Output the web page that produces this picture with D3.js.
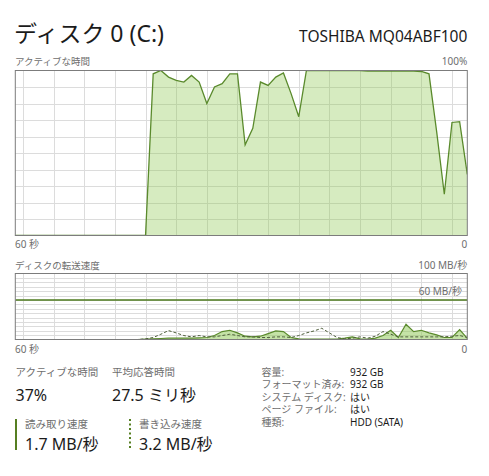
<!DOCTYPE html>
<html>
<head>
<meta charset="utf-8">
<script src="https://cdn.jsdelivr.net/npm/d3@7"></script>
<style>
  html, body { margin: 0; padding: 0; background: #ffffff; }
  svg { display: block; }
  text { font-family: "Segoe UI", "Noto Sans", "Noto Sans CJK JP", sans-serif; }
</style>
</head>
<body>
<svg id="chart" width="489" height="476"></svg>
<script>
// Disk activity over the last 60 seconds (one sample per second, oldest first)
const activeTime = [
  0, 0, 0, 0, 0, 0, 0, 0, 0, 0,
  0, 0, 0, 0, 0, 0, 0, 0, 98, 100,
  96, 94, 93, 97, 93, 80, 90, 92, 98, 98,
  55, 65, 93, 91, 96, 98.5, 86, 72, 100, 100,
  100, 100, 100, 100, 100, 100, 99.6, 99.6, 99.6, 99.6,
  99.6, 99.6, 99.6, 99.4, 98, 63, 25, 68.5, 69, 37
];
// Transfer rates in MB/s
const readSpeed = [
  0, 0, 0, 0, 0, 0, 0, 0, 0, 0,
  0, 0, 0, 0, 0, 0, 0, 0.5, 1, 1.5,
  2, 2, 2, 2, 2.5, 3, 6, 12, 14, 10,
  5, 4, 5, 9, 13, 12, 3, 1, 0.5, 0.5,
  0.5, 0.5, 0.5, 2, 4, 1, 0.5, 2, 6, 14,
  3, 23, 12, 14, 10, 7, 3, 3, 15, 1.7
];
const writeSpeed = [
  0, 0, 0, 0, 0, 0, 0, 0, 0, 0,
  0, 0, 0, 0, 0, 0, 0, 1, 3, 8,
  13.5, 10, 6, 4, 6, 4, 4, 6, 8, 6,
  4, 4, 3, 3, 4, 4, 3, 6, 10, 13,
  17, 10, 3, 1, 2, 4, 2, 5, 12, 8,
  4, 4, 4, 4, 4, 4, 4, 5, 6, 3.2
];

const diskTitle = "ディスク 0 (C:)";
const diskModel = "TOSHIBA MQ04ABF100";
const activeLabels = ["アクティブな時間", "100%"];
const transferLabels = ["ディスクの転送速度", "100 MB/秒"];
const transferRefLine = 60;
const transferRefLabel = "60 MB/秒";
const timeTicks = ["60 秒", "0"];

const summaryLabels = ["アクティブな時間", "平均応答時間"];
const summaryValues = ["37%", "27.5 ミリ秒"];
const rateLabels = ["読み取り速度", "書き込み速度"];
const rateValues = ["1.7 MB/秒", "3.2 MB/秒"];
const infoLabels = ["容量:", "フォーマット済み:", "システム ディスク:", "ページ ファイル:", "種類:"];
const infoValues = ["932 GB", "932 GB", "はい", "はい", "HDD (SATA)"];

// ---- drawing ----
const svg = d3.select("#chart");
const GREEN_LINE = "#5a8a2c";
const GREEN_FILL = "#8cc850";
const GRID = "#dcdcdc";
const BORDER = "#7c7c7c";
const LABEL = "#6e6e6e";
const INK = "#1b1b1b";

const left = 15.3, right = 467.3;
const x = d3.scaleLinear().domain([0, activeTime.length - 1]).range([left, right]);
const gridIdx = d3.range(1, activeTime.length, 4);

svg.append("text").attr("x", 14).attr("y", 42)
  .attr("font-size", 23).attr("fill", INK).text(diskTitle);
svg.append("text").attr("x", right).attr("y", 42).attr("text-anchor", "end")
  .attr("font-size", 15.5).attr("fill", INK).text(diskModel);

function panel(top, bottom, maxVal, hLines, id) {
  const y = d3.scaleLinear().domain([0, maxVal]).range([bottom, top]);
  const g = svg.append("g");
  g.append("clipPath").attr("id", id).append("rect")
    .attr("x", left).attr("y", top).attr("width", right - left).attr("height", bottom - top);
  const grid = g.append("g").attr("stroke", GRID).attr("stroke-width", 1);
  grid.selectAll("line.v").data(gridIdx).join("line").attr("class", "v")
    .attr("x1", d => Math.round(x(d)) + 0.5).attr("x2", d => Math.round(x(d)) + 0.5)
    .attr("y1", top).attr("y2", bottom);
  grid.selectAll("line.h").data(hLines).join("line").attr("class", "h")
    .attr("x1", left).attr("x2", right)
    .attr("y1", d => Math.round(y(d)) + 0.5).attr("y2", d => Math.round(y(d)) + 0.5);
  return { g, y };
}

// Active time panel
const p1 = panel(70.5, 235.5, 100, d3.range(10, 100, 10), "clipA");
const area1 = d3.area().x((d, i) => x(i)).y0(p1.y(0)).y1(d => p1.y(d));
const line1 = d3.line().x((d, i) => x(i)).y(d => p1.y(d));
const c1 = p1.g.append("g").attr("clip-path", "url(#clipA)");
c1.append("path").datum(activeTime).attr("d", area1)
  .attr("fill", GREEN_FILL).attr("fill-opacity", 0.36);
c1.append("path").datum(activeTime).attr("d", line1)
  .attr("fill", "none").attr("stroke", GREEN_LINE).attr("stroke-width", 1.3);
p1.g.append("rect").attr("x", left).attr("y", 70.5).attr("width", right - left).attr("height", 165)
  .attr("fill", "none").attr("stroke", BORDER).attr("stroke-width", 1);

svg.append("text").attr("x", 15).attr("y", 65).attr("font-size", 9.5).attr("fill", LABEL).text(activeLabels[0]);
svg.append("text").attr("x", right).attr("y", 65).attr("text-anchor", "end").attr("font-size", 10).attr("fill", LABEL).text(activeLabels[1]);
svg.append("text").attr("x", 15).attr("y", 248).attr("font-size", 10).attr("fill", LABEL).text(timeTicks[0]);
svg.append("text").attr("x", right).attr("y", 248).attr("text-anchor", "end").attr("font-size", 10).attr("fill", LABEL).text(timeTicks[1]);

// Transfer rate panel
const p2 = panel(273.5, 339.5, 100, d3.range(100 / 15, 100, 100 / 15), "clipB");
const area2 = d3.area().x((d, i) => x(i)).y0(p2.y(0)).y1(d => p2.y(d));
const line2 = d3.line().x((d, i) => x(i)).y(d => p2.y(d));
const c2 = p2.g.append("g").attr("clip-path", "url(#clipB)");
c2.append("path").datum(readSpeed).attr("d", area2)
  .attr("fill", GREEN_FILL).attr("fill-opacity", 0.5);
c2.append("path").datum(readSpeed).attr("d", line2)
  .attr("fill", "none").attr("stroke", GREEN_LINE).attr("stroke-width", 1.2);
c2.append("path").datum(writeSpeed).attr("d", line2)
  .attr("fill", "none").attr("stroke", "#4f5f3c").attr("stroke-width", 1)
  .attr("stroke-dasharray", "3,2");
c2.append("line").attr("x1", left).attr("x2", right)
  .attr("y1", p2.y(transferRefLine)).attr("y2", p2.y(transferRefLine))
  .attr("stroke", "#4c7a1c").attr("stroke-width", 1.5);
p2.g.append("rect").attr("x", left).attr("y", 273.5).attr("width", right - left).attr("height", 66)
  .attr("fill", "none").attr("stroke", BORDER).attr("stroke-width", 1);

svg.append("text").attr("x", 15).attr("y", 269).attr("font-size", 9.5).attr("fill", LABEL).text(transferLabels[0]);
svg.append("text").attr("x", right).attr("y", 269).attr("text-anchor", "end").attr("font-size", 10).attr("fill", LABEL).text(transferLabels[1]);
svg.append("text").attr("x", 462).attr("y", p2.y(transferRefLine) - 5).attr("text-anchor", "end")
  .attr("font-size", 10).attr("fill", LABEL).text(transferRefLabel);
svg.append("text").attr("x", 15).attr("y", 353).attr("font-size", 10).attr("fill", LABEL).text(timeTicks[0]);
svg.append("text").attr("x", right).attr("y", 353).attr("text-anchor", "end").attr("font-size", 10).attr("fill", LABEL).text(timeTicks[1]);

// Summary figures
const sumX = [15.5, 112];
summaryLabels.forEach((t, i) => {
  svg.append("text").attr("x", sumX[i]).attr("y", 376).attr("font-size", 10.5).attr("fill", LABEL).text(t);
  svg.append("text").attr("x", sumX[i]).attr("y", 401).attr("font-size", 16).attr("fill", INK).text(summaryValues[i]);
});

const rateX = [16, 130];
rateLabels.forEach((t, i) => {
  const bar = svg.append("line").attr("x1", rateX[i]).attr("x2", rateX[i])
    .attr("y1", 419).attr("y2", 450).attr("stroke", "#567f22").attr("stroke-width", 2);
  if (i === 1) bar.attr("stroke-dasharray", "2,2.5");
  svg.append("text").attr("x", rateX[i] + 9).attr("y", 428).attr("font-size", 10.5).attr("fill", LABEL).text(t);
  svg.append("text").attr("x", rateX[i] + 9).attr("y", 449.5).attr("font-size", 16).attr("fill", INK).text(rateValues[i]);
});

// Drive properties
infoLabels.forEach((t, i) => {
  const yy = 375.5 + i * 12.5;
  svg.append("text").attr("x", 261.5).attr("y", yy).attr("font-size", 10).attr("fill", LABEL).text(t);
  svg.append("text").attr("x", 350).attr("y", yy).attr("font-size", 10).attr("fill", INK).text(infoValues[i]);
});
</script>
</body>
</html>
